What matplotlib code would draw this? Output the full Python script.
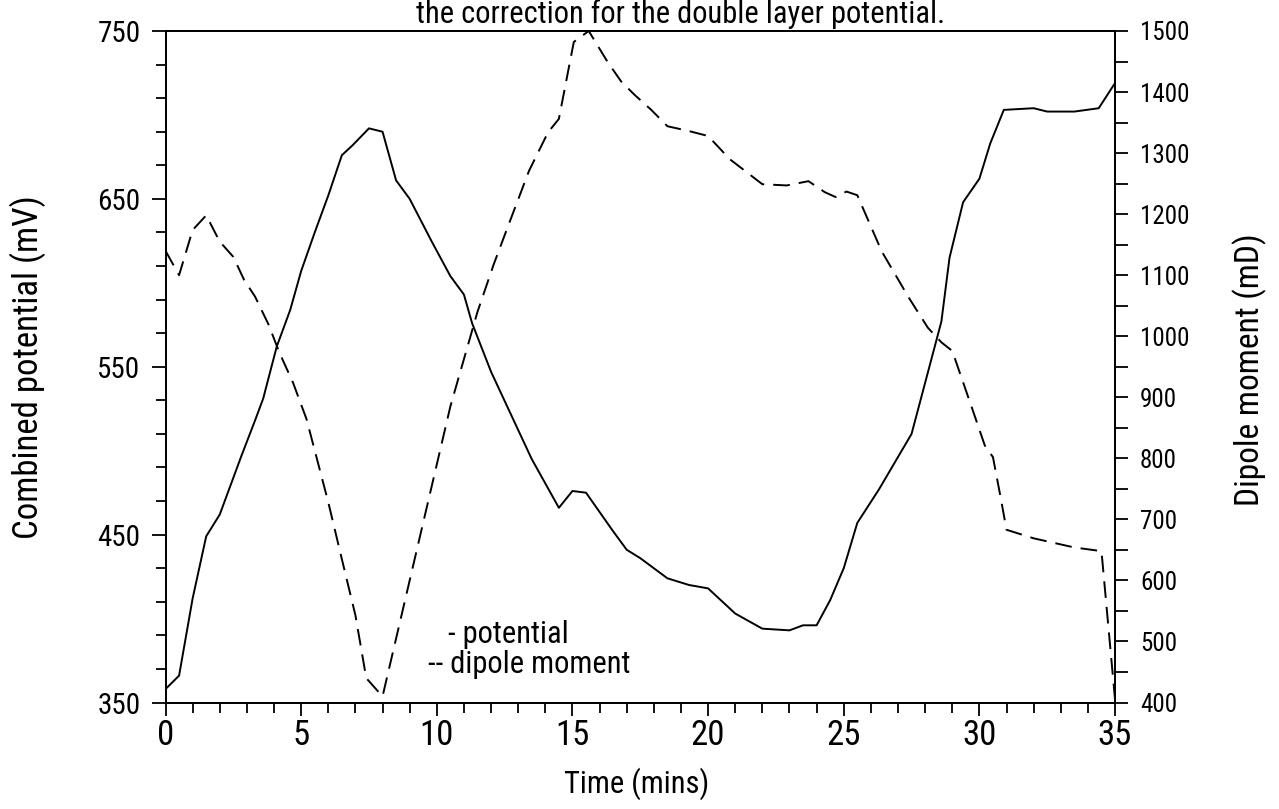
import matplotlib
matplotlib.use("Agg")
import matplotlib.pyplot as plt
import numpy as np

plt.rcParams['font.family'] = ['Roboto Condensed', 'Roboto', 'DejaVu Sans']
plt.rcParams['lines.scale_dashes'] = False

# Combined potential (mV) against time (mins)
time_potential = [0, 0.5, 1.0, 1.5, 2.0, 2.8, 3.3, 3.6, 4.1, 4.6, 5.0, 5.5, 6.0,
                  6.5, 6.9, 7.5, 8.0, 8.5, 9.0, 9.8, 10.5, 11.0, 11.3, 12.0, 13.5,
                  14.5, 15.0, 15.5, 16.5, 17.0, 17.5, 18.5, 19.3, 20.0, 21.0, 22.0,
                  23.0, 23.5, 24.0, 24.5, 25.0, 25.5, 26.3, 27.5, 28.6, 28.9, 29.4,
                  30.0, 30.4, 30.9, 32.0, 32.5, 33.5, 34.4, 35.0]
potential = [358, 366, 412, 449, 462, 497, 518, 531, 562, 584, 607, 630, 652,
             676, 682, 692, 690, 661, 650, 625, 604, 593, 576, 547, 495,
             466, 476, 475, 452, 441, 436, 424, 420, 418, 403, 394,
             393, 396, 396, 411, 430, 457, 477, 510, 577, 615, 648,
             662, 683, 703, 704, 702, 702, 704, 719]

# Dipole moment (mD) against time (mins)
time_dipole = [0, 0.5, 1.0, 1.5, 2.0, 2.5, 2.9, 3.3, 3.8, 4.2, 4.7, 5.2, 6.0,
               6.5, 7.0, 7.4, 8.0, 10.5, 11.5, 12.1, 12.7, 13.4, 14.1, 14.5,
               15.05, 15.6, 16.3, 16.8, 17.3, 17.9, 18.5, 19.3, 20.0, 20.8, 22.0,
               22.9, 23.7, 24.3, 24.7, 25.1, 25.5, 26.4, 27.4, 28.1, 28.6, 29.0,
               29.8, 30.2, 30.5, 30.8, 31.0, 32.0, 33.5, 34.5, 35.0]
dipole = [1140, 1100, 1174, 1198, 1155, 1130, 1092, 1065, 1019, 973, 924, 864, 728,
          635, 543, 440, 410, 885, 1040, 1118, 1189, 1271, 1334, 1356,
          1482, 1500, 1449, 1417, 1395, 1371, 1344, 1336, 1328, 1290, 1249,
          1247, 1254, 1236, 1228, 1237, 1231, 1139, 1063, 1014, 990, 976,
          873, 821, 802, 732, 683, 669, 654, 648, 405]

x_major = [0, 5, 10, 15, 20, 25, 30, 35]
left_major = [350, 450, 550, 650, 750]
right_major = [400, 500, 600, 700, 800, 900, 1000, 1100, 1200, 1300, 1400, 1500]

fig = plt.figure(figsize=(12.79, 8.09), dpi=100)
ax = fig.add_axes([0.1294, 0.1316, 0.7424, 0.8301])

ax.plot(time_potential, potential, color='black', lw=1.4)
ax.set_xlim(0, 35)
ax.set_ylim(350, 750)
ax.set_xticks(x_major)
ax.set_xticks(np.arange(0, 36, 1), minor=True)
ax.set_yticks(left_major)
ax.set_yticks(np.arange(370, 750, 20), minor=True)

ax2 = ax.twinx()
ax2.plot(time_dipole, dipole, color='black', lw=1.4, dashes=(12, 6.5))
ax2.set_ylim(400, 1500)
ax2.set_yticks(right_major)
ax2.set_yticks(np.arange(450, 1500, 100), minor=True)

for a in (ax, ax2):
    for s in a.spines.values():
        s.set_linewidth(1.3)

ax.tick_params(axis='x', which='major', direction='out', length=9, width=1.3,
               pad=3, labelsize=25)
ax.tick_params(axis='x', which='minor', direction='out', length=7, width=1.3)
ax.tick_params(axis='y', which='major', direction='out', length=10, width=1.3,
               pad=8, labelsize=21)
ax.tick_params(axis='y', which='minor', direction='out', length=7, width=1.3)
ax2.tick_params(axis='y', which='major', direction='out', length=9, width=1.3,
                pad=9, labelsize=18)
ax2.tick_params(axis='y', which='minor', direction='out', length=9, width=1.3)

fig.text(681 / 1279, 1 - 23 / 809, 'the correction for the double layer potential.',
         ha='center', va='baseline', fontsize=22)
fig.text(28 / 1279, 1 - 367 / 809, 'Combined potential (mV)', rotation=90,
         ha='center', va='center', fontsize=25)
fig.text(1250 / 1279, 1 - 370 / 809, 'Dipole moment (mD)', rotation=90,
         ha='center', va='center', fontsize=24)
fig.text(637 / 1279, 1 - 784 / 809, 'Time (mins)', ha='center', va='center',
         fontsize=22)

fig.text(448 / 1279, 1 - 643 / 809, '- potential', ha='left', va='baseline',
         fontsize=22)
fig.text(428 / 1279, 1 - 673 / 809, '-- dipole moment', ha='left', va='baseline',
         fontsize=22)

fig.savefig('out.png', dpi=100)
